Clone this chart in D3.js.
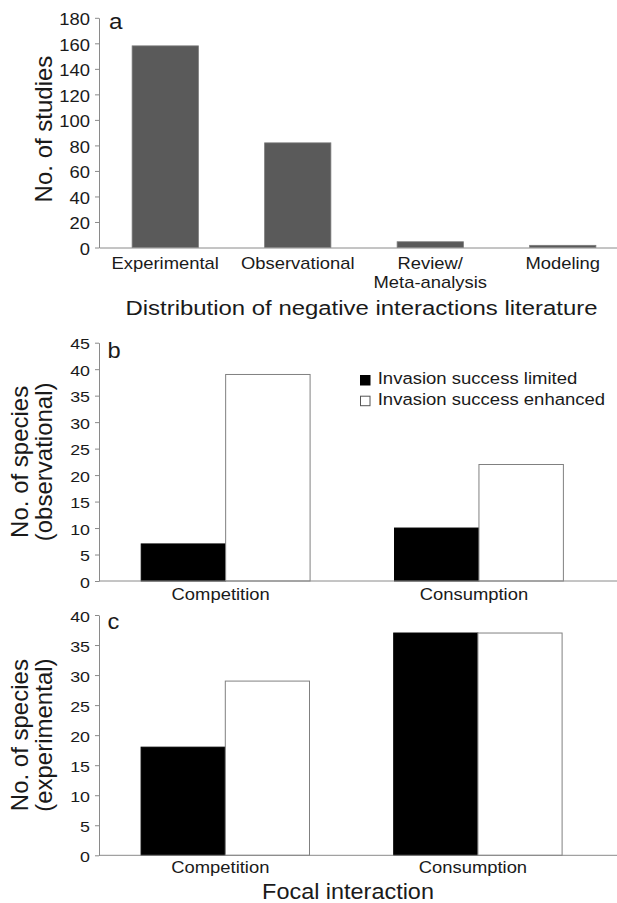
<!DOCTYPE html>
<html>
<head>
<meta charset="utf-8">
<script src="https://cdn.jsdelivr.net/npm/d3@7"></script>
<style>
  body { margin: 0; background: #fff; }
  svg { display: block; font-family: "Liberation Sans", Arial, Helvetica, sans-serif; }
</style>
</head>
<body>
<div id="chart-area"></div>
<script>
// Panel a data
var studyTypes = ["Experimental", "Observational", "Review/\nMeta-analysis", "Modeling"];
var studyCounts = [158, 82, 4.5, 1.7];
var studyTicks = [0, 20, 40, 60, 80, 100, 120, 140, 160, 180];

// Panels b and c data
var interactions = ["Competition", "Consumption"];
var outcomes = ["Invasion success limited", "Invasion success enhanced"];
var observedLimited = [7, 10];
var observedEnhanced = [39, 22];
var experimentLimited = [18, 37];
var experimentEnhanced = [29, 37];
var observedTicks = [0, 5, 10, 15, 20, 25, 30, 35, 40, 45];
var experimentTicks = [0, 5, 10, 15, 20, 25, 30, 35, 40];

var W = 617, H = 903;
var axisX = 99;
var axisColor = "#8a8a8a";
var textColor = "#1a1a1a";
var K = 1.15; // horizontal text is a bit wider in the original

var svg = d3.select("#chart-area")
    .append("svg")
    .attr("width", W)
    .attr("height", H);

// widen text horizontally, keeping its anchor point in place
function widen(sel, k) {
    sel.each(function () {
        var t = d3.select(this);
        var x = +t.attr("x") || 0;
        t.attr("x", x / k).attr("transform", "scale(" + k + ",1)");
        t.selectAll("tspan").each(function () {
            var s = d3.select(this);
            if (s.attr("x") != null) s.attr("x", +s.attr("x") / k);
        });
    });
}

function addText(x, y, str, size, anchor, k) {
    return svg.append("text")
        .attr("transform", "translate(" + x + "," + y + ") scale(" + k + ",1)")
        .attr("text-anchor", anchor)
        .attr("font-size", size)
        .attr("fill", textColor)
        .text(str);
}

function styleAxis(g) {
    g.selectAll(".domain").attr("stroke", axisColor);
    g.selectAll(".tick line").attr("stroke", axisColor);
    g.selectAll(".tick text").attr("fill", textColor);
}

function yAxisLabel(lines, cy, baselines) {
    var t = svg.append("text")
        .attr("transform", "translate(0," + cy + ") rotate(-90)")
        .attr("text-anchor", "middle")
        .attr("font-size", 24)
        .attr("fill", textColor);
    lines.forEach(function (l, i) {
        t.append("tspan").attr("x", 0).attr("y", baselines[i]).text(l);
    });
}

// ---------------- Panel a ----------------
var xa = d3.scaleBand()
    .domain(studyTypes)
    .range([axisX, axisX + 4 * 132.5])
    .paddingInner(0.5)
    .paddingOuter(0.25);

var ya = d3.scaleLinear()
    .domain([0, 180])
    .range([247.5, 17.8]);

svg.selectAll("rect.study")
    .data(studyCounts)
    .enter()
    .append("rect")
    .attr("class", "study")
    .attr("x", function (d, i) { return xa(studyTypes[i]); })
    .attr("y", function (d) { return ya(d); })
    .attr("width", xa.bandwidth())
    .attr("height", function (d) { return ya(0) - ya(d); })
    .attr("fill", "#5a5a5a")
    .attr("stroke", "#7a7a7a")
    .attr("stroke-width", 0.8);

var gya = svg.append("g")
    .attr("transform", "translate(" + axisX + ",0)")
    .call(d3.axisLeft(ya).tickValues(studyTicks).tickSize(4).tickPadding(5).tickSizeOuter(0))
    .attr("font-size", 16)
    .attr("font-family", null);
gya.selectAll(".tick text").attr("dy", "0.42em");
widen(gya.selectAll(".tick text"), K);
styleAxis(gya);

var gxa = svg.append("g")
    .attr("transform", "translate(0," + ya(0) + ")")
    .call(d3.axisBottom(xa).tickSize(0).tickPadding(10).tickSizeOuter(0))
    .attr("font-size", 16)
    .attr("font-family", null);
gxa.selectAll(".tick text").each(function (d) {
    var parts = d.split("\n");
    var el = d3.select(this).text(null);
    parts.forEach(function (p, i) {
        el.append("tspan").attr("x", 0).attr("dy", i === 0 ? "0.71em" : "1.22em").text(p);
    });
});
widen(gxa.selectAll(".tick text"), K);
styleAxis(gxa);

addText(109, 29, "a", 22, "start", 1.1);
yAxisLabel(["No. of studies"], 129, [51.5]);
addText(361.5, 314.5, "Distribution of negative interactions literature", 21, "middle", 1.14);

// ---------------- Panels b, c ----------------
function groupedPanel(top, bottom, maxV, ticks, limited, enhanced, step, labelPad, letter, letterY, labelLines) {
    var x0 = d3.scaleBand()
        .domain(interactions)
        .range([axisX, axisX + 2 * step])
        .paddingInner(1 / 3)
        .paddingOuter(1 / 6);
    var x1 = d3.scaleBand()
        .domain(outcomes)
        .range([0, x0.bandwidth()]);
    var y = d3.scaleLinear().domain([0, maxV]).range([bottom, top]);
    var color = d3.scaleOrdinal().domain(outcomes).range(["#000000", "#ffffff"]);

    var rows = [];
    interactions.forEach(function (c, i) {
        rows.push({ cat: c, s: outcomes[0], v: limited[i] });
        rows.push({ cat: c, s: outcomes[1], v: enhanced[i] });
    });

    svg.append("g").selectAll("rect")
        .data(rows)
        .enter()
        .append("rect")
        .attr("x", function (d) { return x0(d.cat) + x1(d.s); })
        .attr("y", function (d) { return y(d.v); })
        .attr("width", x1.bandwidth())
        .attr("height", function (d) { return y(0) - y(d.v); })
        .attr("fill", function (d) { return color(d.s); })
        .attr("stroke", function (d) { return d.s === outcomes[0] ? "#000" : "#808080"; })
        .attr("stroke-width", 1);

    var gy = svg.append("g")
        .attr("transform", "translate(" + axisX + ",0)")
        .call(d3.axisLeft(y).tickValues(ticks).tickSize(4).tickPadding(5).tickSizeOuter(0))
        .attr("font-size", 15.5)
        .attr("font-family", null);
    gy.selectAll(".tick text").attr("dy", "0.4em");
    widen(gy.selectAll(".tick text"), K);
    styleAxis(gy);

    var gx = svg.append("g")
        .attr("transform", "translate(0," + y(0) + ")")
        .call(d3.axisBottom(x0).tickSize(0).tickPadding(labelPad).tickSizeOuter(0))
        .attr("font-size", 16)
        .attr("font-family", null);
    gx.select(".domain").remove();
    gx.append("line").attr("x1", axisX).attr("x2", W).attr("stroke", axisColor);
    gx.selectAll(".tick text").attr("x", -5);
    widen(gx.selectAll(".tick text"), K);
    styleAxis(gx);

    addText(107.5, letterY, letter, 21.5, "start", 1.1);
    yAxisLabel(labelLines, (top + bottom) / 2, [28, 52]);
    return { x0: x0, y: y, color: color };
}

var pb = groupedPanel(342.7, 581, 45, observedTicks, observedLimited, observedEnhanced, 253.3, 7.6,
    "b", 358.3, ["No. of species", "(observational)"]);

// legend
var legend = svg.append("g").attr("transform", "translate(360,375)");
outcomes.forEach(function (o, i) {
    var row = legend.append("g").attr("transform", "translate(0," + i * 20.7 + ")");
    row.append("rect")
        .attr("x", 0.5).attr("y", 0.5)
        .attr("width", 9.5).attr("height", 9.5)
        .attr("fill", pb.color(o))
        .attr("stroke", i === 0 ? "#000" : "#555");
    row.append("text")
        .attr("transform", "translate(17.7,9.3) scale(1.09,1)")
        .attr("font-size", 17)
        .attr("fill", textColor)
        .text(o);
});

groupedPanel(615, 855.3, 40, experimentTicks, experimentLimited, experimentEnhanced, 252.6, 6,
    "c", 628.5, ["No. of species", "(experimental)"]);

addText(348, 899, "Focal interaction", 21.5, "middle", 1.09);
</script>
</body>
</html>
